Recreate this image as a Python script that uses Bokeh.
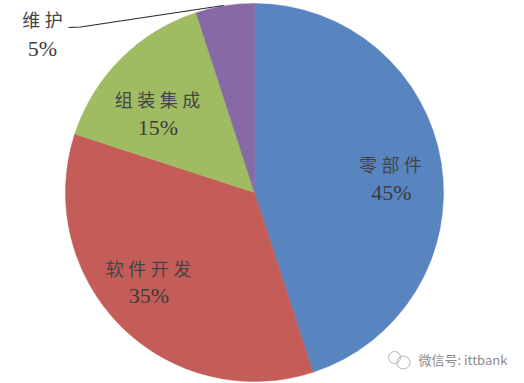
import math
from bokeh.plotting import figure
from bokeh.models import Range1d
from bokeh.core.properties import value
from bokeh.embed import file_html
from bokeh.resources import INLINE

categories = ["零部件", "软件开发", "组装集成", "维护"]
shares = [45, 35, 15, 5]
colors = ["#5884c0", "#c45c58", "#9fbc62", "#8669a5"]
W, H = 524, 383
cx, cy, r = 254, H - 192, 189

p = figure(width=W, height=H, output_backend="svg", toolbar_location=None,
           x_range=Range1d(0, W), y_range=Range1d(0, H),
           min_border=0, outline_line_color=None, background_fill_color="white",
           border_fill_color="white")
p.axis.visible = False
p.grid.visible = False

cum = 0
total = sum(shares)
for s, c in zip(shares, colors):
    a0 = math.pi / 2 - 2 * math.pi * cum / total
    cum += s
    a1 = math.pi / 2 - 2 * math.pi * cum / total
    p.wedge(x=[cx], y=[cy], radius=r, start_angle=a0, end_angle=a1, direction="clock",
            fill_color=c, line_color=c, line_width=0.5)

# leader line for the small slice
p.line(x=[68, 80, 223], y=[H - 27, H - 26.5, H - 5], line_color="#262626", line_width=1.2)


def spaced(s):
    return "\u2005".join(s)


label_pos = [(390, 163, 391, 192), (148, 267, 148.5, 295), (157, 98, 157.5, 127), (42, 18, 42, 48)]
for cat, s, (x1, y1, x2, y2) in zip(categories, shares, label_pos):
    p.text(x=[x1], y=[H - y1], text=[spaced(cat)], text_align="center", text_baseline="middle",
           text_font=value("Noto Sans CJK SC"), text_font_size="18px", text_color="#444444")
    p.text(x=[x2], y=[H - y2], text=[f"{s}%"], text_align="center", text_baseline="middle",
           text_font=value("Liberation Serif"), text_font_size="22px", text_color="#3c3c3c")

# watermark
p.circle(x=[394, 403], y=[H - 357, H - 362], radius=[6, 6.5], fill_color=None,
         line_color="#b5b5b5", line_width=1)
p.text(x=[418], y=[H - 359], text=["微信号: ittbank"], text_align="left", text_baseline="middle",
       text_font=value("Noto Sans CJK SC"), text_font_size="13px", text_color="#8c8c8c")

open("out.html", "w").write(file_html(p, INLINE))
